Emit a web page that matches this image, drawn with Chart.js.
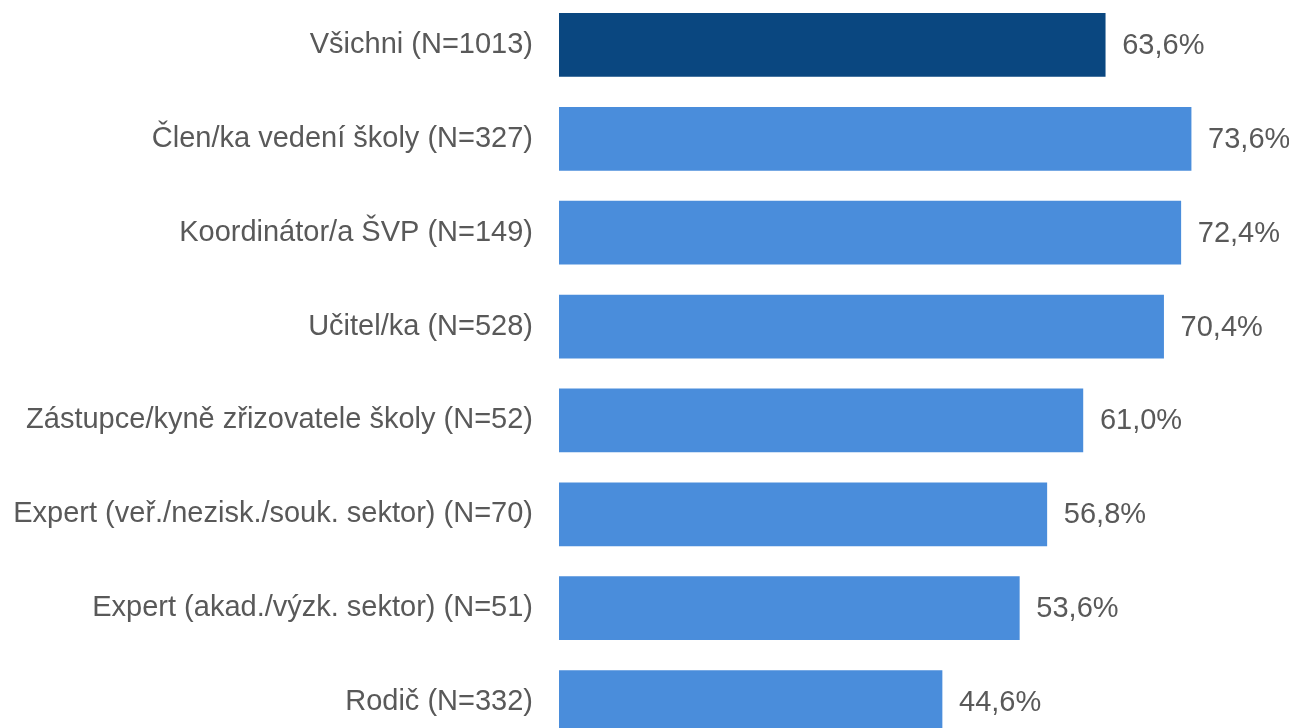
<!DOCTYPE html>
<html>
<head>
<meta charset="utf-8">
<script src="https://cdn.jsdelivr.net/npm/chart.js@4/dist/chart.umd.min.js"></script>
<style>
  html,body{margin:0;padding:0;background:#fff;overflow:hidden;}
  #wrap{position:absolute;left:0;top:-2px;width:1289px;height:751px;}
</style>
</head>
<body>
<div id="wrap"><canvas id="chart"></canvas></div>
<script>
const labels = [
  'Všichni (N=1013)',
  'Člen/ka vedení školy (N=327)',
  'Koordinátor/a ŠVP (N=149)',
  'Učitel/ka (N=528)',
  'Zástupce/kyně zřizovatele školy (N=52)',
  'Expert (veř./nezisk./souk. sektor) (N=70)',
  'Expert (akad./výzk. sektor) (N=51)',
  'Rodič (N=332)'
];
const values = [63.6, 73.6, 72.4, 70.4, 61.0, 56.8, 53.6, 44.6];
const colors = ['#0a4780','#4a8ddb','#4a8ddb','#4a8ddb','#4a8ddb','#4a8ddb','#4a8ddb','#4a8ddb'];

const FONT = '"Liberation Sans", Arial, sans-serif';
const TEXT = '#595959';

function pct(v){ return v.toFixed(1).replace('.', ',') + '%'; }

// value labels to the right of each bar
const valueLabels = {
  id:'valueLabels',
  afterDatasetsDraw(chart){
    const ctx = chart.ctx;
    const meta = chart.getDatasetMeta(0);
    ctx.save();
    ctx.font = '29px ' + FONT;
    ctx.fillStyle = TEXT;
    ctx.textAlign = 'left';
    ctx.textBaseline = 'middle';
    meta.data.forEach((bar,i)=>{
      ctx.fillText(pct(values[i]), bar.x + 17, bar.y + 1);
    });
    ctx.restore();
  }
};

new Chart(document.getElementById('chart'),{
  type:'bar',
  data:{ labels:labels, datasets:[{ data:values, backgroundColor:colors, borderWidth:0, barThickness:63 }] },
  options:{
    indexAxis:'y',
    responsive:true,
    maintainAspectRatio:false,
    animation:false,
    layout:{ padding:0 },
    plugins:{ legend:{display:false}, tooltip:{enabled:false} },
    scales:{
      x:{ display:false, min:0, max:85 },
      y:{
        grid:{ display:false, drawTicks:false },
        border:{ display:false },
        ticks:{ color:TEXT, font:{ family:FONT, size:29 }, padding:26, autoSkip:false },
        afterFit(scale){
          scale.width = 559;
          scale.paddingTop = 0;
          scale.paddingBottom = 0;
        }
      }
    }
  },
  plugins:[valueLabels]
});
</script>
</body>
</html>
